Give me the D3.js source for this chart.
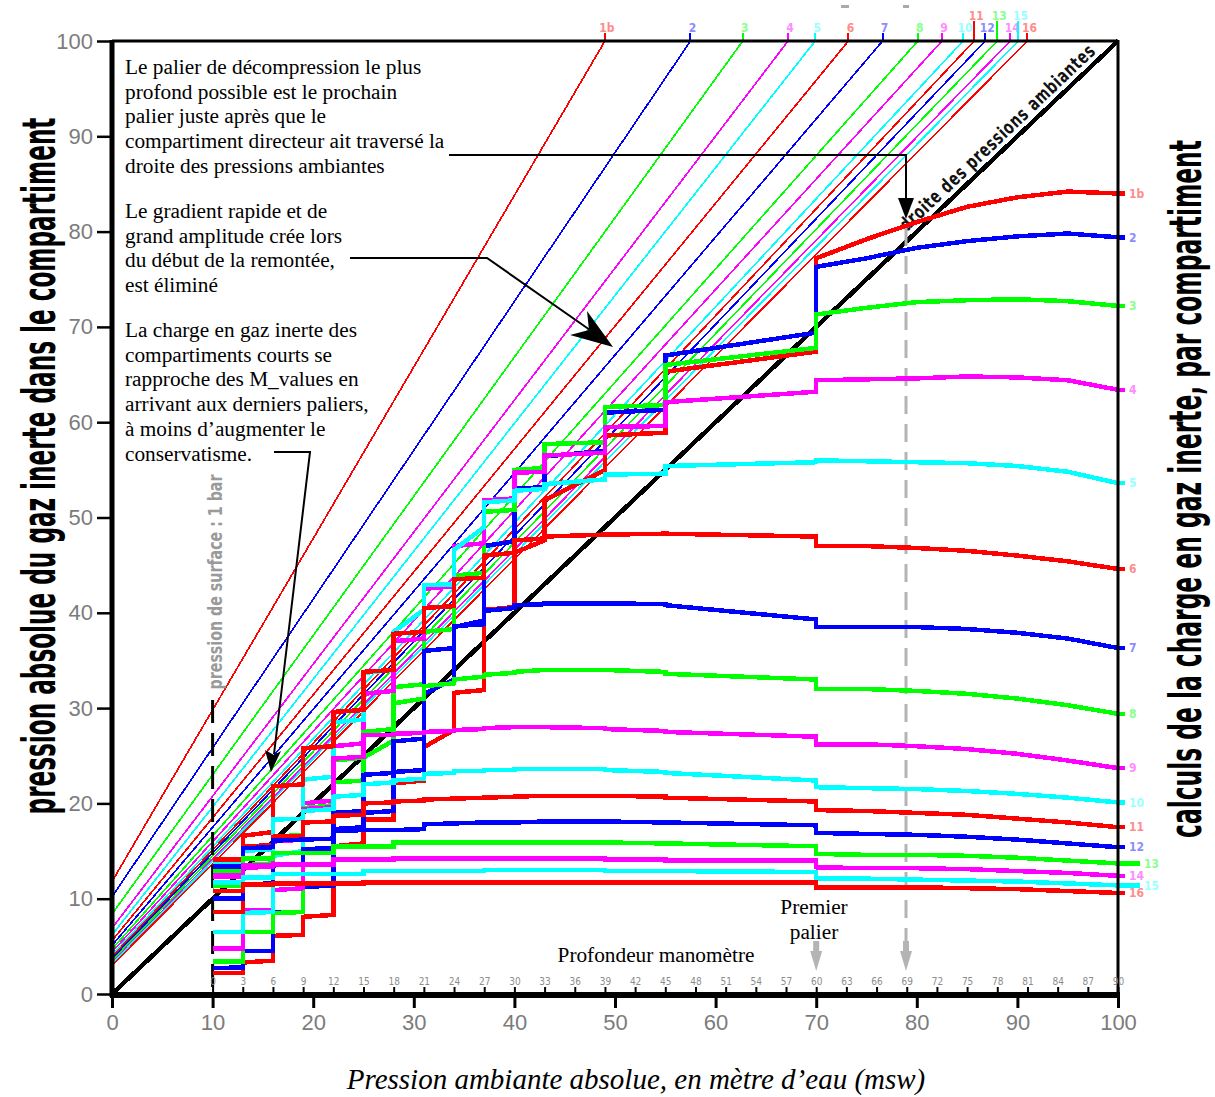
<!DOCTYPE html>
<html>
<head>
<meta charset="utf-8">
<script src="https://cdn.jsdelivr.net/npm/d3@7"></script>
<style>
  body { margin: 0; background: #fff; }
  svg { display: block; }
  .serif { font-family: "Liberation Serif", "Times New Roman", serif; }
  .cond { font-family: "Liberation Sans Narrow", "DejaVu Sans Condensed", "Liberation Sans", sans-serif; font-weight: bold; }
</style>
</head>
<body>
<svg id="chart" width="1215" height="1097"></svg>
<script>
// compartments (ZH-L16 style numbering)
const compLabels = ['1b', '2', '3', '4', '5', '6', '7', '8', '9', '10', '11', '12', '13', '14', '15', '16'];
const compColors = ['#ff0000', '#0000ff', '#00ff00', '#ff00ff', '#00ffff',
                    '#ff0000', '#0000ff', '#00ff00', '#ff00ff', '#00ffff',
                    '#ff0000', '#0000ff', '#00ff00', '#ff00ff', '#00ffff', '#ff0000'];
const labelColors = ['#ff8c8c', '#8c8cff', '#8cff8c', '#ff8cff', '#9cffff',
                     '#ff8c8c', '#8c8cff', '#8cff8c', '#ff8cff', '#9cffff',
                     '#ff8c8c', '#8c8cff', '#8cff8c', '#ff8cff', '#9cffff', '#ff8c8c'];

// M-value lines: load at P = 0 and pressure where they reach 100 msw
const mIntercept = [11.8, 10.2, 8.4, 6.9, 6.2, 5.6, 5.1, 4.7, 4.4, 4.1, 3.9, 3.7, 3.5, 3.3, 3.2, 3.0];
const mTopP = [49.0, 57.5, 62.7, 67.2, 69.9, 73.2, 76.6, 80.1, 82.5, 84.6, 85.7, 86.8, 88.0, 89.3, 90.1, 91.0];

// axis ticks
const pressureTicks = [0, 10, 20, 30, 40, 50, 60, 70, 80, 90, 100];
const depthTicks = [0, 3, 6, 9, 12, 15, 18, 21, 24, 27, 30, 33, 36, 39, 42, 45,
                    48, 51, 54, 57, 60, 63, 66, 69, 72, 75, 78, 81, 84, 87, 90];

// ascent profile: bottom phase pressures, stop pressures, surface
const bottomP = [100, 95, 90, 85, 80, 75];
const stopP = [70, 55, 49, 43, 40, 37, 34, 31, 28, 25, 22, 19, 16, 13];
const surfaceP = 10;

// tissue loads (msw): bottom phase, arrival at each stop, departure from each stop
const bot1b = [84.0, 84.2, 83.6, 82.6, 81.0, 79.2];
const arr1b = [77.2, 65.3, 58.6, 51.8, 46.3, 40.3, 31.6, 25.9, 22.1, 18.3, 15.5, 8.1, 6.1, 3.3];
const dep1b = [67.4, 58.9, 55.0, 47.6, 40.6, 31.9, 27.7, 22.4, 18.3, 15.8, 8.3, 6.2, 3.5, 2.2];
const bot2 = [79.4, 79.8, 79.5, 79.0, 78.3, 77.2];
const arr2 = [76.3, 67.0, 61.0, 56.4, 53.0, 47.0, 38.5, 31.5, 23.3, 19.0, 17.3, 11.2, 8.6, 4.5];
const dep2 = [69.4, 61.3, 57.0, 53.2, 47.5, 39.2, 33.0, 23.5, 19.2, 17.5, 11.4, 8.6, 4.5, 2.8];
const bot3 = [72.2, 72.7, 72.9, 72.8, 72.6, 72.0];
const arr3 = [71.3, 66.0, 61.6, 57.7, 55.0, 50.6, 43.9, 38.0, 32.2, 24.8, 22.2, 15.1, 8.5, 6.5];
const dep3 = [67.8, 61.8, 57.9, 55.2, 50.8, 44.2, 38.3, 32.5, 26.6, 22.4, 15.3, 8.6, 6.5, 3.4];
const bot4 = [63.4, 64.4, 64.7, 64.8, 64.6, 64.5];
const arr4 = [64.4, 62.1, 59.5, 56.5, 54.7, 51.8, 47.0, 42.5, 37.0, 31.5, 26.0, 20.0, 10.9, 8.8];
const dep4 = [63.2, 59.6, 56.8, 54.8, 52.0, 47.3, 42.8, 37.3, 31.8, 26.3, 20.3, 11.1, 8.8, 4.8];
const bot5 = [53.6, 54.8, 55.4, 55.7, 55.8, 55.9];
const arr5 = [56.0, 55.4, 54.5, 53.5, 52.8, 51.6, 46.6, 42.9, 38.0, 33.7, 28.5, 22.5, 14.5, 8.5];
const dep5 = [55.8, 54.6, 54.0, 53.0, 51.8, 49.0, 43.0, 40.3, 34.0, 28.8, 22.8, 15.0, 8.6, 6.5];
const bot6 = [44.6, 45.4, 46.0, 46.5, 46.8, 47.0];
const arr6 = [47.0, 48.3, 48.2, 48.0, 47.6, 46.0, 43.5, 40.5, 37.8, 33.8, 29.6, 25.8, 21.8, 16.6];
const dep6 = [48.0, 48.3, 48.2, 47.8, 46.3, 43.7, 40.7, 38.0, 34.0, 29.8, 26.0, 22.0, 17.0, 8.6];
const bot7 = [36.3, 37.3, 37.9, 38.3, 38.5, 38.5];
const arr7 = [38.5, 40.8, 41.0, 41.0, 40.8, 40.2, 38.6, 36.0, 26.5, 23.0, 19.0, 15.2, 13.5, 11.5];
const dep7 = [39.3, 40.9, 41.0, 40.9, 40.5, 38.8, 36.3, 26.8, 23.2, 19.2, 15.3, 13.6, 11.6, 10.0];
const bot8 = [29.4, 30.3, 31.0, 31.5, 31.8, 32.0];
const arr8 = [32.0, 33.6, 34.0, 34.0, 33.8, 33.5, 33.0, 32.3, 30.5, 27.5, 24.5, 19.5, 16.5, 13.5];
const dep8 = [33.0, 33.8, 34.0, 34.0, 33.7, 33.3, 32.6, 31.0, 27.8, 24.8, 19.8, 16.7, 13.7, 11.4];
const bot9 = [23.7, 24.5, 25.2, 25.7, 26.0, 26.2];
const arr9 = [26.2, 27.5, 27.8, 28.0, 28.0, 27.9, 27.7, 27.5, 27.3, 27.2, 24.7, 19.4, 16.0, 13.2];
const dep9 = [27.0, 27.6, 27.9, 28.0, 28.0, 27.8, 27.6, 27.4, 27.2, 24.9, 19.6, 16.2, 13.4, 12.6];
const bot10 = [20.1, 20.6, 21.0, 21.3, 21.5, 21.6];
const arr10 = [21.7, 23.2, 23.5, 23.6, 23.6, 23.5, 23.4, 23.1, 22.4, 22.0, 20.7, 19.2, 18.3, 15.0];
const dep10 = [22.4, 23.3, 23.6, 23.6, 23.5, 23.4, 23.2, 22.6, 22.2, 20.9, 19.4, 18.4, 15.2, 13.6];
const bot11 = [17.5, 18.0, 18.4, 18.8, 19.0, 19.2];
const arr11 = [19.3, 20.6, 20.8, 20.8, 20.7, 20.6, 20.5, 20.4, 20.2, 20.0, 18.7, 18.0, 16.5, 15.5];
const dep11 = [20.2, 20.7, 20.8, 20.8, 20.7, 20.6, 20.5, 20.3, 20.1, 18.8, 18.1, 16.6, 15.6, 14.1];
const bot12 = [15.4, 15.8, 16.2, 16.5, 16.7, 16.8];
const arr12 = [16.9, 18.0, 18.1, 18.1, 18.0, 18.0, 17.9, 17.8, 17.2, 17.2, 17.1, 16.2, 16.1, 15.3];
const dep12 = [17.7, 18.0, 18.1, 18.1, 18.0, 18.0, 17.9, 17.3, 17.2, 17.2, 16.3, 16.2, 15.4, 13.4];
const bot13 = [13.7, 14.0, 14.3, 14.5, 14.6, 14.6];
const arr13 = [14.7, 15.8, 15.9, 15.9, 15.9, 15.9, 15.9, 15.9, 15.9, 15.5, 15.5, 14.8, 14.8, 14.2];
const dep13 = [15.5, 15.8, 15.9, 15.9, 15.9, 15.9, 15.9, 15.9, 15.5, 15.5, 14.8, 14.8, 14.2, 12.9];
const bot14 = [12.4, 12.7, 12.9, 13.1, 13.2, 13.2];
const arr14 = [13.3, 14.0, 14.1, 14.2, 14.2, 14.2, 14.2, 14.2, 14.2, 14.1, 14.1, 13.6, 13.6, 13.5];
const dep14 = [14.0, 14.1, 14.2, 14.2, 14.2, 14.2, 14.2, 14.2, 14.1, 14.1, 13.6, 13.6, 13.5, 12.3];
const bot15 = [11.4, 11.6, 11.8, 11.9, 12.0, 12.1];
const arr15 = [12.1, 12.9, 12.9, 13.0, 13.0, 13.0, 12.9, 12.9, 12.9, 12.9, 12.6, 12.6, 12.6, 12.2];
const dep15 = [12.8, 12.9, 13.0, 13.0, 13.0, 12.9, 12.9, 12.9, 12.9, 12.6, 12.6, 12.6, 12.2, 11.7];
const bot16 = [10.6, 10.8, 11.0, 11.1, 11.2, 11.2];
const arr16 = [11.2, 11.7, 11.7, 11.7, 11.7, 11.7, 11.7, 11.7, 11.7, 11.7, 11.6, 11.6, 11.6, 11.5];
const dep16 = [11.7, 11.7, 11.7, 11.7, 11.7, 11.7, 11.7, 11.7, 11.7, 11.6, 11.6, 11.6, 11.5, 10.8];
const surfLoad = [2.2, 2.7, 3.4, 4.8, 6.5, 8.6, 10.0, 11.3, 12.6, 13.6, 14.1, 13.4, 12.9, 12.3, 11.7, 10.8];

const bots = [bot1b, bot2, bot3, bot4, bot5, bot6, bot7, bot8, bot9, bot10, bot11, bot12, bot13, bot14, bot15, bot16];
const arrs = [arr1b, arr2, arr3, arr4, arr5, arr6, arr7, arr8, arr9, arr10, arr11, arr12, arr13, arr14, arr15, arr16];
const deps = [dep1b, dep2, dep3, dep4, dep5, dep6, dep7, dep8, dep9, dep10, dep11, dep12, dep13, dep14, dep15, dep16];

const notes1 = ['Le palier de décompression le plus', 'profond possible est le prochain',
    'palier juste après que le', 'compartiment directeur ait traversé la', 'droite des pressions ambiantes'];
const notes2 = ['Le gradient rapide et de', 'grand amplitude crée lors', 'du début de la remontée,', 'est éliminé'];
const notes3 = ['La charge en gaz inerte des', 'compartiments courts se', 'rapproche des M_values  en',
    'arrivant aux derniers paliers,', 'à moins d\u2019augmenter le', 'conservatisme.'];

const svg = d3.select('#chart');
const x = d3.scaleLinear().domain([0, 100]).range([112, 1118]);
const y = d3.scaleLinear().domain([0, 100]).range([994, 41]);
const depthX = d3.scaleLinear().domain([0, 90]).range([x(surfaceP), x(100)]);

// squeeze a text to a given length with a horizontal scale
function fitText(sel, base, target) {
    const w = sel.node().getComputedTextLength();
    sel.attr('transform', `${base} scale(${target / w},1)`);
    return sel;
}

// M-value lines and their labels on top
const mLayer = svg.append('g').attr('shape-rendering', 'crispEdges');
compLabels.forEach((lab, i) => {
    const raised = [10, 12, 14].includes(i);
    const stubTop = raised ? 21 : 33;
    mLayer.append('line')
        .attr('x1', x(0)).attr('y1', y(mIntercept[i]))
        .attr('x2', x(mTopP[i])).attr('y2', y(100))
        .attr('stroke', compColors[i]).attr('stroke-width', 1.7);
    mLayer.append('line')
        .attr('x1', x(mTopP[i])).attr('x2', x(mTopP[i]))
        .attr('y1', y(100)).attr('y2', stubTop)
        .attr('stroke', compColors[i]).attr('stroke-width', 2);
    mLayer.append('text')
        .attr('class', 'cond')
        .attr('x', x(mTopP[i]) + 2).attr('y', stubTop - 1)
        .attr('text-anchor', 'middle')
        .attr('font-size', '12px')
        .attr('fill', labelColors[i])
        .text(lab);
});

// surface pressure line
svg.append('line')
    .attr('x1', x(surfaceP)).attr('x2', x(surfaceP))
    .attr('y1', 700).attr('y2', 990)
    .attr('stroke', '#000').attr('stroke-width', 3)
    .attr('stroke-dasharray', '23,10');

const surfText = svg.append('text')
    .attr('class', 'cond')
    .attr('text-anchor', 'middle')
    .attr('font-size', '20px')
    .attr('fill', '#9a9a9a')
    .text('pression de surface : 1 bar');
fitText(surfText, `translate(${x(surfaceP) + 9},582) rotate(-90)`, 215);

// ambient pressure line
svg.append('line')
    .attr('x1', x(0)).attr('y1', y(0)).attr('x2', x(100)).attr('y2', y(100))
    .attr('stroke', '#000').attr('stroke-width', 4.5)
    .attr('shape-rendering', 'crispEdges');

const angle = Math.atan2(y(0) - y(100), x(100) - x(0)) * 180 / Math.PI;
const diagText = svg.append('text')
    .attr('class', 'cond')
    .attr('font-size', '19px')
    .attr('fill', '#111')
    .attr('letter-spacing', '1px')
    .text('droite des pressions ambiantes');
fitText(diagText, `translate(${x(79.3) - 3},${y(79.3) - 6}) rotate(${-angle})`, 262);

// gray dashed line of the deepest possible stop
svg.append('line')
    .attr('x1', 906).attr('x2', 906).attr('y1', 228).attr('y2', 946)
    .attr('stroke', '#b4b4b4').attr('stroke-width', 3)
    .attr('stroke-dasharray', '18,10');

// tissue load curves
const curveLayer = svg.append('g').attr('shape-rendering', 'crispEdges');
const line = d3.line().x(d => x(d[0])).y(d => y(d[1]));
compLabels.forEach((lab, i) => {
    const pts = bottomP.map((p, k) => [p, bots[i][k]]);
    stopP.forEach((p, k) => {
        pts.push([p, arrs[i][k]]);
        pts.push([p, deps[i][k]]);
    });
    pts.push([surfaceP, surfLoad[i]]);
    const far = [12, 14].includes(i);
    const yEnd = y(bots[i][0]);
    curveLayer.append('line')
        .attr('x1', x(100)).attr('x2', x(100) + (far ? 22 : 7))
        .attr('y1', yEnd).attr('y2', yEnd)
        .attr('stroke', compColors[i]).attr('stroke-width', 4.5);
    curveLayer.append('path')
        .datum(pts)
        .attr('d', line)
        .attr('fill', 'none')
        .attr('stroke', compColors[i])
        .attr('stroke-width', 4.5)
        .attr('stroke-linejoin', 'miter');
    svg.append('text')
        .attr('class', 'cond')
        .attr('x', x(100) + (far ? 26 : 11)).attr('y', yEnd)
        .attr('dy', '0.35em')
        .attr('font-size', '12px')
        .attr('fill', labelColors[i])
        .text(lab);
});

// frame
svg.append('line').attr('x1', x(0)).attr('x2', x(100)).attr('y1', y(100)).attr('y2', y(100))
    .attr('stroke', '#000').attr('stroke-width', 3);
svg.append('line').attr('x1', x(100)).attr('x2', x(100)).attr('y1', y(100) - 1).attr('y2', y(0))
    .attr('stroke', '#000').attr('stroke-width', 3);

// axes
const yAxis = d3.axisLeft(y).tickValues(pressureTicks).tickSize(15).tickPadding(4);
svg.append('g')
    .attr('transform', `translate(${x(0)},0)`)
    .call(yAxis)
    .call(g => g.select('.domain').remove())
    .call(g => g.selectAll('line').attr('stroke', '#000').attr('stroke-width', 2.5))
    .call(g => g.selectAll('text')
        .attr('fill', '#7c7c7c')
        .style('font-family', 'Liberation Sans, Arial, sans-serif')
        .style('font-size', '22px'));

const xAxis = d3.axisBottom(x).tickValues(pressureTicks).tickSize(14).tickPadding(6);
svg.append('g')
    .attr('transform', `translate(0,${y(0)})`)
    .call(xAxis)
    .call(g => g.select('.domain').remove())
    .call(g => g.selectAll('line').attr('stroke', '#000').attr('stroke-width', 3))
    .call(g => g.selectAll('text')
        .attr('fill', '#7c7c7c')
        .style('font-family', 'Liberation Sans, Arial, sans-serif')
        .style('font-size', '22px'));

const depthAxis = d3.axisTop(depthX).tickValues(depthTicks).tickSize(5).tickPadding(2);
svg.append('g')
    .attr('transform', `translate(0,${y(0) - 2})`)
    .call(depthAxis)
    .call(g => g.select('.domain').remove())
    .call(g => g.selectAll('line').attr('stroke', '#000').attr('stroke-width', 2))
    .call(g => g.selectAll('text')
        .attr('fill', '#8c8c8c')
        .style('font-family', 'Liberation Sans Narrow, DejaVu Sans Condensed, sans-serif')
        .style('font-size', '10px'));

svg.append('line').attr('x1', x(0)).attr('x2', x(0)).attr('y1', y(100) - 1).attr('y2', y(0) + 3)
    .attr('stroke', '#000').attr('stroke-width', 5);
svg.append('line').attr('x1', x(0) - 2).attr('x2', x(100) + 2).attr('y1', y(0) + 1).attr('y2', y(0) + 1)
    .attr('stroke', '#000').attr('stroke-width', 6);

// axis titles
const leftTitle = svg.append('text')
    .attr('class', 'cond')
    .attr('text-anchor', 'middle')
    .attr('font-size', '46px')
    .attr('fill', '#000')
    .text('pression absolue du gaz inerte dans le compartiment');
fitText(leftTitle, 'translate(55,466) rotate(-90)', 697);

const rightTitle = svg.append('text')
    .attr('class', 'cond')
    .attr('text-anchor', 'middle')
    .attr('font-size', '44px')
    .attr('fill', '#000')
    .text('calculs de la charge en gaz inerte, par compartiment');
fitText(rightTitle, 'translate(1201,489) rotate(-90)', 698);

svg.append('text')
    .attr('class', 'serif')
    .attr('x', 636).attr('y', 1089)
    .attr('text-anchor', 'middle')
    .attr('font-size', '29px')
    .attr('font-style', 'italic')
    .text('Pression ambiante absolue, en mètre d\u2019eau (msw)');

// notes
const noteBlock = (lines, y0) => {
    lines.forEach((t, k) => {
        svg.append('text')
            .attr('class', 'serif')
            .attr('x', 125).attr('y', y0 + k * 24.7)
            .attr('font-size', '21.3px')
            .attr('fill', '#000')
            .text(t);
    });
};
noteBlock(notes1, 74);
noteBlock(notes2, 218);
noteBlock(notes3, 337);

svg.append('text').attr('class', 'serif').attr('x', 814).attr('y', 914)
    .attr('text-anchor', 'middle').attr('font-size', '21.3px').text('Premier');
svg.append('text').attr('class', 'serif').attr('x', 814).attr('y', 939)
    .attr('text-anchor', 'middle').attr('font-size', '21.3px').text('palier');
svg.append('text').attr('class', 'serif').attr('x', 656).attr('y', 962)
    .attr('text-anchor', 'middle').attr('font-size', '21.3px').text('Profondeur manomètre');

// leader lines and arrows
const lead = svg.append('g').attr('fill', 'none').attr('stroke', '#000').attr('stroke-width', 2);
lead.append('polyline').attr('points', '449,155 906,155 906,202');
lead.append('polyline').attr('points', '350,258 487,258 590,330');
lead.append('polyline').attr('points', '274,452 310,452 274,754');

svg.append('polygon').attr('points', '898,198 914,198 906,219').attr('fill', '#000');
svg.append('polygon').attr('points', '613,347 570,335 589,330 587,311').attr('fill', '#000');
svg.append('polygon').attr('points', '271,772 265,750 274,755 281,751').attr('fill', '#000');

[x(70), 906].forEach(px => {
    svg.append('polygon')
        .attr('points', `${px - 3},941 ${px + 3},941 ${px + 3},951 ${px + 6},951 ${px},971 ${px - 6},951 ${px - 3},951`)
        .attr('fill', '#b4b4b4');
});
svg.append('rect').attr('x', 841).attr('y', 5).attr('width', 8).attr('height', 3).attr('fill', '#aaa');
svg.append('rect').attr('x', 903).attr('y', 5).attr('width', 6).attr('height', 3).attr('fill', '#aaa');
</script>
</body>
</html>
